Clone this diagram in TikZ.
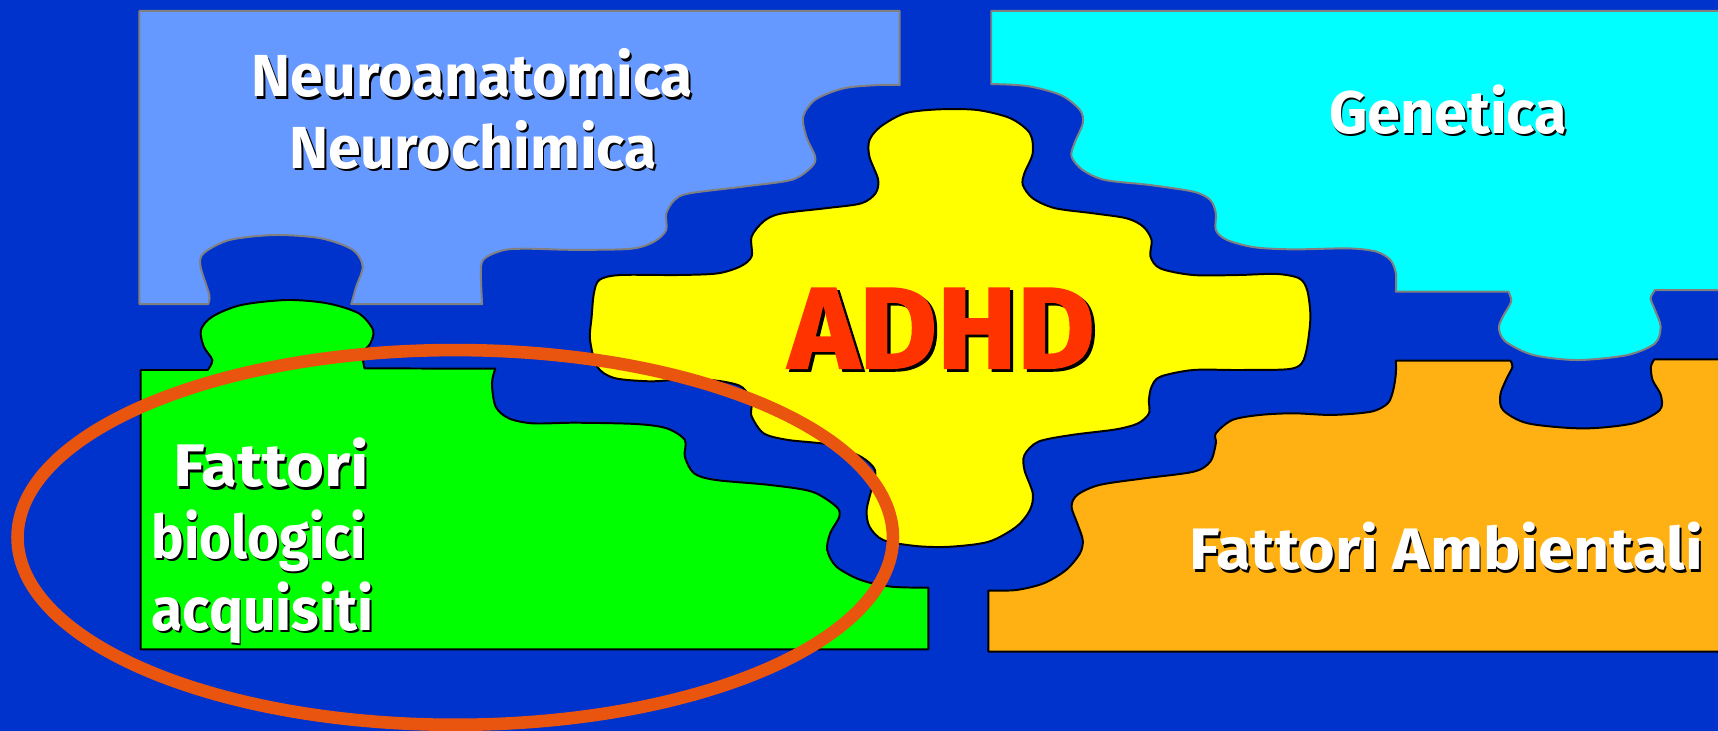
\documentclass[tikz,border=0pt]{standalone}
\usepackage{fontspec}
\setsansfont{Fira Sans}
\newfontfamily\adhdfont{Fira Sans}[BoldFeatures={FakeBold=1.5}]
\usepackage{graphicx}
\definecolor{bgblue}{RGB}{0,51,204}
\definecolor{lightblue}{RGB}{102,153,255}
\definecolor{cyanp}{RGB}{0,255,255}
\definecolor{greenp}{RGB}{0,255,0}
\definecolor{yellowp}{RGB}{255,255,0}
\definecolor{orangep}{RGB}{255,177,20}
\definecolor{ringcol}{RGB}{233,84,14}
\definecolor{adhdred}{RGB}{255,51,0}
\definecolor{edgegray}{RGB}{128,128,128}
\newcommand\fitcap[3]{\resizebox{#1}{#2}{\smash{#3}\rule{0pt}{\fontcharht\font`H}}}
\newcommand\stxt[8]{%
  \node[txtshadow,font=#8] (#1s) at ({#2+1.6},{#3+2.2}) {\fitcap{#4}{#5}{#6}};
  \node[txtmain,font=#8,text=#7] (#1) at (#2,#3) {\fitcap{#4}{#5}{#6}};}
\tikzset{
  piece/.style={line width=1.8pt, line join=round},
  graypiece/.style={piece, draw=edgegray},
  blackpiece/.style={piece, draw=black},
  txtmain/.style={anchor=base west, inner sep=0pt, outer sep=0pt},
  txtshadow/.style={txtmain, text=black},
  ring/.style={draw=ringcol, line width=11.5pt},
}
\begin{document}
\begin{tikzpicture}[x=1pt,y=-1pt]
\useasboundingbox (0,0) rectangle (1568,667);
\clip (0,0) rectangle (1568,667);
\fill[bgblue] (0,0) rectangle (1568,667);

% light blue piece
\filldraw[graypiece, fill=lightblue] (127.3,10) -- (127.3,277.5) -- (190,277.5)
  -- plot[smooth] coordinates {(190,277.5)(191,269)(183,243)(186,231)(209.6,219)(251,214.5)(293,217.5)(322,228)(331,243)(325,262)(320.6,277.5)}
  -- (440,277.5)
  -- plot[smooth] coordinates {(440,277.5)(439,243)(445,234)(461,228)(482,227)(524,228)(576,227)(597,220.5)(608,210)(608,195)(615.6,182.5)(629,176.5)(681,170)(723,164)(741,152)(744,143)(736,125)(733,106.5)(744,91)(770,80.6)(801.5,77.6)(821,77.6)}
  -- (821,10) -- cycle;

% cyan piece
\filldraw[graypiece, fill=cyanp] (904.7,10) -- (904.7,76.7)
  -- plot[smooth] coordinates {(904.7,76.7)(937.5,78.5)(968,86.7)(985.7,100.4)(988.2,112.6)(980.6,130.8)(978,143)(988.2,155.2)(1008.5,164.3)(1049,168.8)(1089.4,175)(1104.6,182.5)(1109.7,194.7)(1109.7,210)(1119.8,219)(1145,225.7)(1180.6,227.6)(1231,226.7)(1256.3,229.7)(1269,237.3)(1274,249.5)(1274,266.2)}
  -- (1376.7,266.2)
  -- plot[smooth] coordinates {(1376.7,266.2)(1379.2,275.3)(1371.6,289)(1368,299.7)(1374.2,311.8)(1399.4,324)(1439.8,328.6)(1485.3,324)(1510.5,313.4)(1515.6,298.1)(1510.5,283)(1506.5,272.3)(1510.5,264.7)}
  -- (1580,264.7) -- (1580,10) -- cycle;

% green piece
\filldraw[blackpiece, fill=greenp] (128.3,337.7) -- (189.6,337.7)
  -- plot[smooth] coordinates {(189.6,337.7)(193.8,328.6)(186,316.4)(183.4,301.2)(193.8,289)(220,278.4)(262,273.8)(298.6,276.8)(327.4,286)(340.5,301.2)(338,313.4)(331,322.5)(332.7,336.2)}
  -- (452,336.5)
  -- plot[smooth] coordinates {(452,336.5)(449,349.9)(452.4,371.2)(464.6,381.9)(486.7,386.4)(525.4,385.8)(580.7,387)(608.4,390.9)(625,401.5)(625,416.7)(633.3,431.9)(652.7,438)(702.4,442.6)(741,448.7)(763.3,462.4)(766,471.5)(757.7,486.7)(755,501.9)(763.3,517.1)(785.4,529.3)(813,535.4)(847.3,536.4)}
  -- (847.3,592.6) -- (128.3,592.6) -- cycle;

% orange piece
\filldraw[blackpiece, fill=orangep] (902.1,539)
  -- plot[smooth] coordinates {(902.1,539)(927.5,538.5)(952.8,532.3)(973,520.2)(985.7,505)(988.2,492.8)(983.2,477.6)(978,462.4)(983.2,451.7)(1003.5,442.6)(1044,436.6)(1089.4,430.5)(1104.6,421.3)(1109.7,404.6)(1109.7,395.5)(1124.8,383.3)(1150,378.7)(1180.6,377.2)(1216,378.7)(1251.4,375.7)(1266.6,368.1)(1271.6,356)(1274,340.8)(1274,329.2)}
  -- (1378.4,329.2)
  -- plot[smooth] coordinates {(1378.4,329.2)(1380.4,334.7)(1374.4,346.9)(1369.3,360.6)(1371.8,374.3)(1394.6,386.4)(1445,391)(1490.5,386.4)(1514.8,374.3)(1515.8,360.6)(1508.3,346.9)(1506.8,334.7)(1509.8,328)}
  -- (1580,328) -- (1580,594.8) -- (902.1,594.8) -- cycle;

% yellow ADHD piece
\filldraw[blackpiece, fill=yellowp] plot[smooth cycle] coordinates {(793.5,143)(793.5,128)(803.6,115.6)(826,103.4)(856.6,99.8)(892,100.4)(922.3,108)(940,121.7)(942.5,140)(935,158)(933.5,168.8)(942.6,181)(962.8,190)(998,194.7)(1028.5,199.3)(1043.6,207)(1051,219)(1050,234)(1059,245)(1089,251)(1130,251)(1165,250)(1185.6,254)(1193,264.7)(1196,289)(1193,316.4)(1188,331.6)(1175,337)(1130,337.7)(1089,337.7)(1059,343.8)(1051,353)(1048.6,365)(1048.6,377.3)(1038.6,386.4)(1018.4,391.9)(978,397)(947.7,403.1)(935,415.3)(935,429)(942.6,450.3)(940,465.5)(927.6,480.7)(902.4,494.4)(867,499)(836.6,498.4)(806.3,493)(793.6,480.7)(791,465.5)(796,444.2)(798.6,429)(786,417)(758,406)(719,401.5)(697,395.5)(686,380)(686,371)(684,362)(675,352)(650,347)(614,347)(592,348)(560.6,345)(545,334.6)(538.5,310)(540,289)(542,268)(547,255.5)(566,251)(618,251)(655,249.5)(676,243)(686,234)(686,216)(697,202)(712.5,195)(754,190)(786,185.6)(799,176.5)(801.5,164)};

% texts
\stxt{neuroa}{229.5}{88.2}{403pt}{37.5pt}{Neuroanatomica}{white}{\sffamily\bfseries}
\stxt{neuroc}{264}{153.6}{335.3pt}{37.5pt}{Neurochimica}{white}{\sffamily\bfseries}
\stxt{genet}{1213}{121.7}{217.5pt}{38pt}{Genetica}{white}{\sffamily\bfseries}
\stxt{fatt}{158.2}{444.2}{178.8pt}{38pt}{Fattori}{white}{\sffamily\bfseries}
\stxt{biol}{138.4}{509.6}{195.6pt}{38pt}{biologici}{white}{\sffamily\bfseries}
\stxt{acqu}{138.4}{575}{202.3pt}{38pt}{acquisiti}{white}{\sffamily\bfseries}
\stxt{ambi}{1085.7}{520.2}{468.8pt}{37pt}{Fattori Ambientali}{white}{\sffamily\bfseries}
\node[txtshadow,font=\adhdfont\bfseries] (adhds) at (722.5,338.5) {\fitcap{279.5pt}{73pt}{ADHD}};
\node[txtmain,font=\adhdfont\bfseries,text=adhdred] (adhd) at (719.5,336) {\fitcap{279.5pt}{73pt}{ADHD}};

% highlight ring
\draw[ring] (415.5,490.5) ellipse [x radius=399.5, y radius=171];
\end{tikzpicture}
\end{document}
